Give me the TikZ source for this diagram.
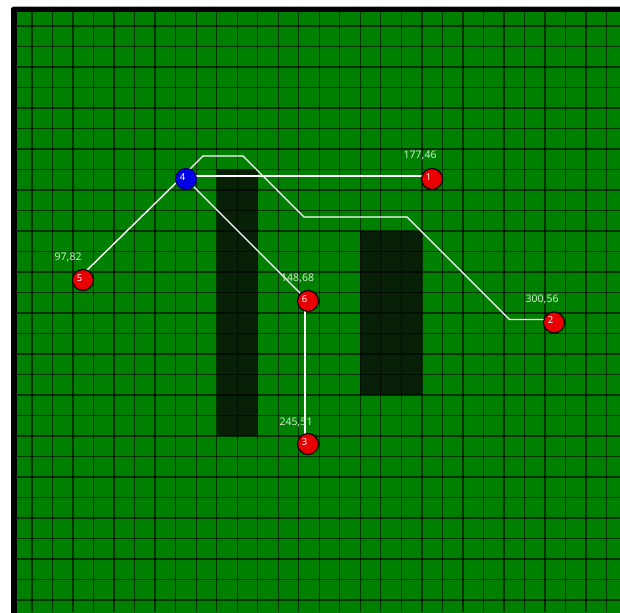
\documentclass[tikz,border=0pt]{standalone}
\usepackage{fontspec}
\setmainfont{Noto Sans}
\definecolor{field}{RGB}{0,128,0}
\definecolor{wallc}{RGB}{8,32,8}
\definecolor{nodered}{RGB}{232,0,0}
\definecolor{nodeblue}{RGB}{0,0,232}
\definecolor{bluerim}{RGB}{0,0,110}
\definecolor{costtext}{RGB}{205,235,205}
\pgfdeclarelayer{bg}
\pgfdeclarelayer{routes}
\pgfsetlayers{bg,routes,main}
\begin{document}
\begin{tikzpicture}[x=1pt,y=-1pt,
  gridline/.style={black, opacity=0.6, line width=1.3pt},
  wall/.style={fill=wallc},
  route/.style={white, line width=1.4pt, line join=round},
  waypoint/.style={circle, draw=black, line width=1.1pt, fill=nodered,
    minimum size=21pt, inner sep=0pt},
  startpoint/.style={waypoint, draw=bluerim, fill=nodeblue},
  idx/.style={text=white, font=\fontsize{9.5}{10}\selectfont\bfseries,
    inner sep=0pt, xshift=-3.5pt, yshift=2pt},
  cost/.style={text=costtext, font=\fontsize{10.5}{12}\selectfont,
    anchor=west, inner sep=0pt}
]
\useasboundingbox (0,0) rectangle (620,612);

% field, frame, walls and grid
\begin{pgfonlayer}{bg}
  \clip (0,0) rectangle (620,612);
  \fill[white] (0,0) rectangle (620,612);
  \draw[gray!45, line width=0.8pt] (13,6.4) -- (620,6.4);
  \fill[black, rounded corners=2pt] (11,7) rectangle (640,640);
  \fill[field] (16.5,12.5) rectangle (640,640);
  \fill[wall] (216.5,169) rectangle (257.5,436);
  \fill[wall] (360,230.5) rectangle (422,394.5);
  \begin{scope}
    \clip (16.5,12.5) rectangle (620,612);
    \foreach \k in {0,...,28} {
      \draw[gridline] ({32+20.52*\k},12.5) -- ({32+20.52*\k},612);
      \draw[gridline] (16.5,{26+20.5*\k}) -- (620,{26+20.5*\k});
    }
  \end{scope}
\end{pgfonlayer}

% waypoints
\node[startpoint, label={[idx]center:4}] (n4) at (186,179) {};
\node[waypoint, label={[idx]center:1}] (n1) at (432,179) {};
\node[waypoint, label={[idx]center:5}] (n5) at (83,280) {};
\node[waypoint, label={[idx]center:6}] (n6) at (308,301) {};
\node[waypoint, label={[idx]center:2}] (n2) at (554,322.5) {};
\node[waypoint, label={[idx]center:3}] (n3) at (308,444) {};

% path costs
\node[cost] (c1) at ([shift={(-28.5,-24)}]n1.center) {177,46};
\node[cost] (c5) at ([shift={(-28.5,-23)}]n5.center) {97,82};
\node[cost] (c6) at ([shift={(-27,-23)}]n6.center) {148,68};
\node[cost] (c2) at ([shift={(-28.5,-23)}]n2.center) {300,56};
\node[cost] (c3) at ([shift={(-28.5,-22)}]n3.center) {245,51};

% bends of the route around the walls
\coordinate (b1) at (203,156);
\coordinate (b2) at (243,156);
\coordinate (b3) at (304,217);
\coordinate (b4) at (407,217);
\coordinate (b5) at (509.5,319.5);

\begin{pgfonlayer}{routes}
  \draw[route] ([shift={(-3,-3)}]n4.center) -- ([shift={(-3,-3)}]n1.center);
  \draw[route] ([shift={(-3,-3)}]n4.center) -- ([shift={(-3,-3)}]n5.center);
  \draw[route] ([shift={(-3,-3)}]n4.center) -- ([shift={(-3,-3)}]n6.center);
  \draw[route] ([shift={(-3,-3)}]n6.center) -- ([shift={(-3,-3)}]n3.center);
  \draw[route] ([shift={(-3,-3)}]n4.center) -- (b1) -- (b2) -- (b3) -- (b4)
    -- (b5) -- ([shift={(-3,-3)}]n2.center);
\end{pgfonlayer}
\end{tikzpicture}
\end{document}
